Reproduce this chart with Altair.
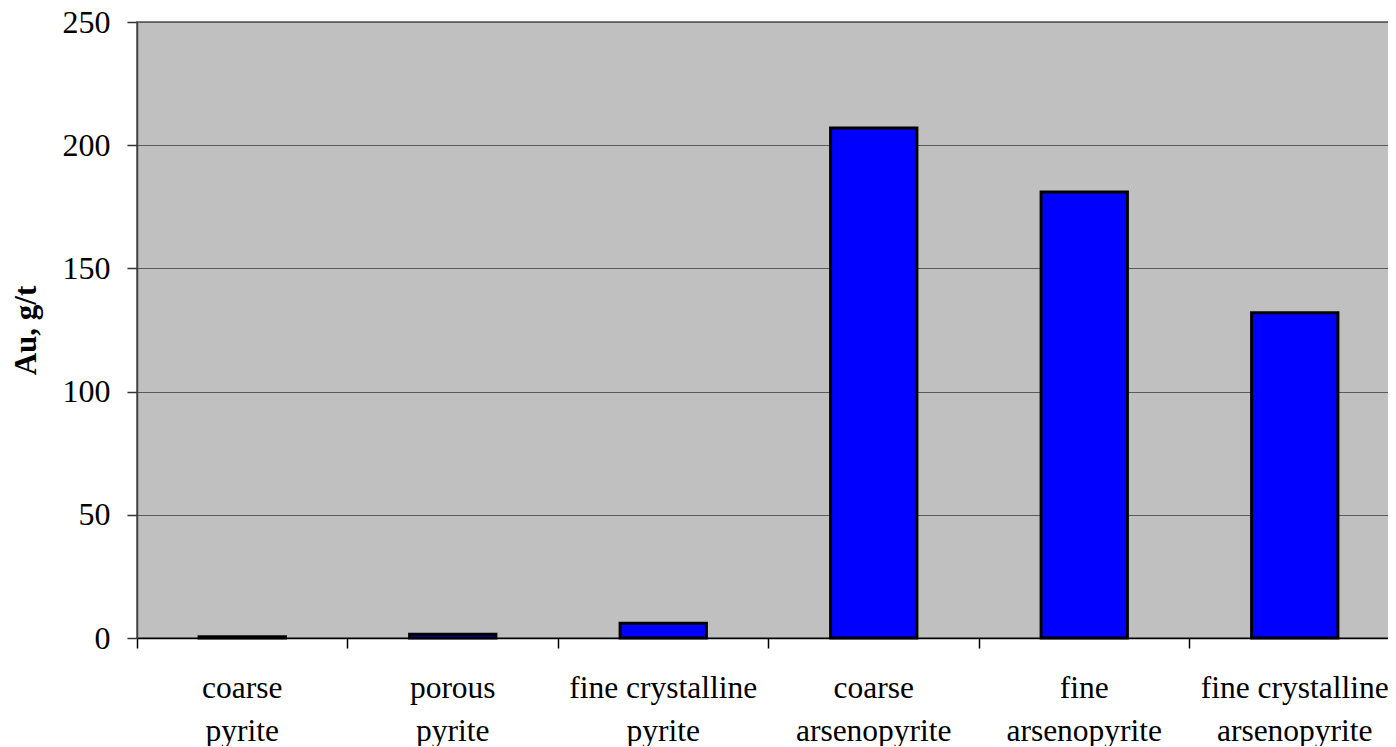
import altair as alt
import pandas as pd

categories = [
    "coarse pyrite",
    "porous pyrite",
    "fine crystalline pyrite",
    "coarse arsenopyrite",
    "fine arsenopyrite",
    "fine crystalline arsenopyrite",
]
au_values = [0.5, 1.5, 6, 207, 181, 132]
y_ticks = [0, 50, 100, 150, 200, 250]

df = pd.DataFrame({"mineral": categories, "au": au_values})

label_expr = (
    "[substring(datum.label, 0, lastindexof(datum.label, ' ')), "
    "substring(datum.label, lastindexof(datum.label, ' ') + 1)]"
)

FONT = "Liberation Serif"

chart = (
    alt.Chart(df)
    .mark_bar(
        color="#0000FF",
        stroke="#000000",
        strokeWidth=3,
        width=alt.RelativeBandSize(band=0.41),
    )
    .encode(
        x=alt.X(
            "mineral:N",
            sort=categories,
            scale=alt.Scale(paddingInner=0, paddingOuter=0),
            axis=alt.Axis(
                title=None,
                labelAngle=0,
                labelExpr=label_expr,
                labelLimit=0,
                bandPosition=0,
                ticks=True,
                tickSize=10,
                tickColor="#000000",
                tickWidth=1.5,
                domainColor="#000000",
                domainWidth=1.5,
                labelFont=FONT,
                labelFontSize=31.5,
                labelColor="#000000",
                labelLineHeight=43,
                labelPadding=24,
                grid=False,
            ),
        ),
        y=alt.Y(
            "au:Q",
            scale=alt.Scale(domain=[0, 250], nice=False),
            axis=alt.Axis(
                values=y_ticks,
                title="Au, g/t",
                titleFont=FONT,
                titleFontSize=31,
                titleFontWeight="bold",
                titleColor="#000000",
                titleAngle=270,
                titleX=-102,
                titleY=308,
                titleAlign="center",
                titleBaseline="alphabetic",
                labelFont=FONT,
                labelFontSize=32,
                labelColor="#000000",
                labelPadding=17,
                tickSize=10,
                tickColor="#333333",
                tickWidth=1.5,
                domainColor="#404040",
                domainWidth=1.5,
                grid=True,
                gridColor="#5a5a5a",
                gridWidth=1.2,
            ),
        ),
    )
    .properties(
        width=1263,
        height=616,
        autosize=alt.AutoSizeParams(type="none"),
        padding={"left": 129, "top": 14, "right": -12, "bottom": 108},
        background="white",
    )
    .configure_view(fill="#C0C0C0", stroke="#808080", strokeWidth=2)
)

chart.save("out.html", embed_options={"renderer": "svg", "actions": False})
